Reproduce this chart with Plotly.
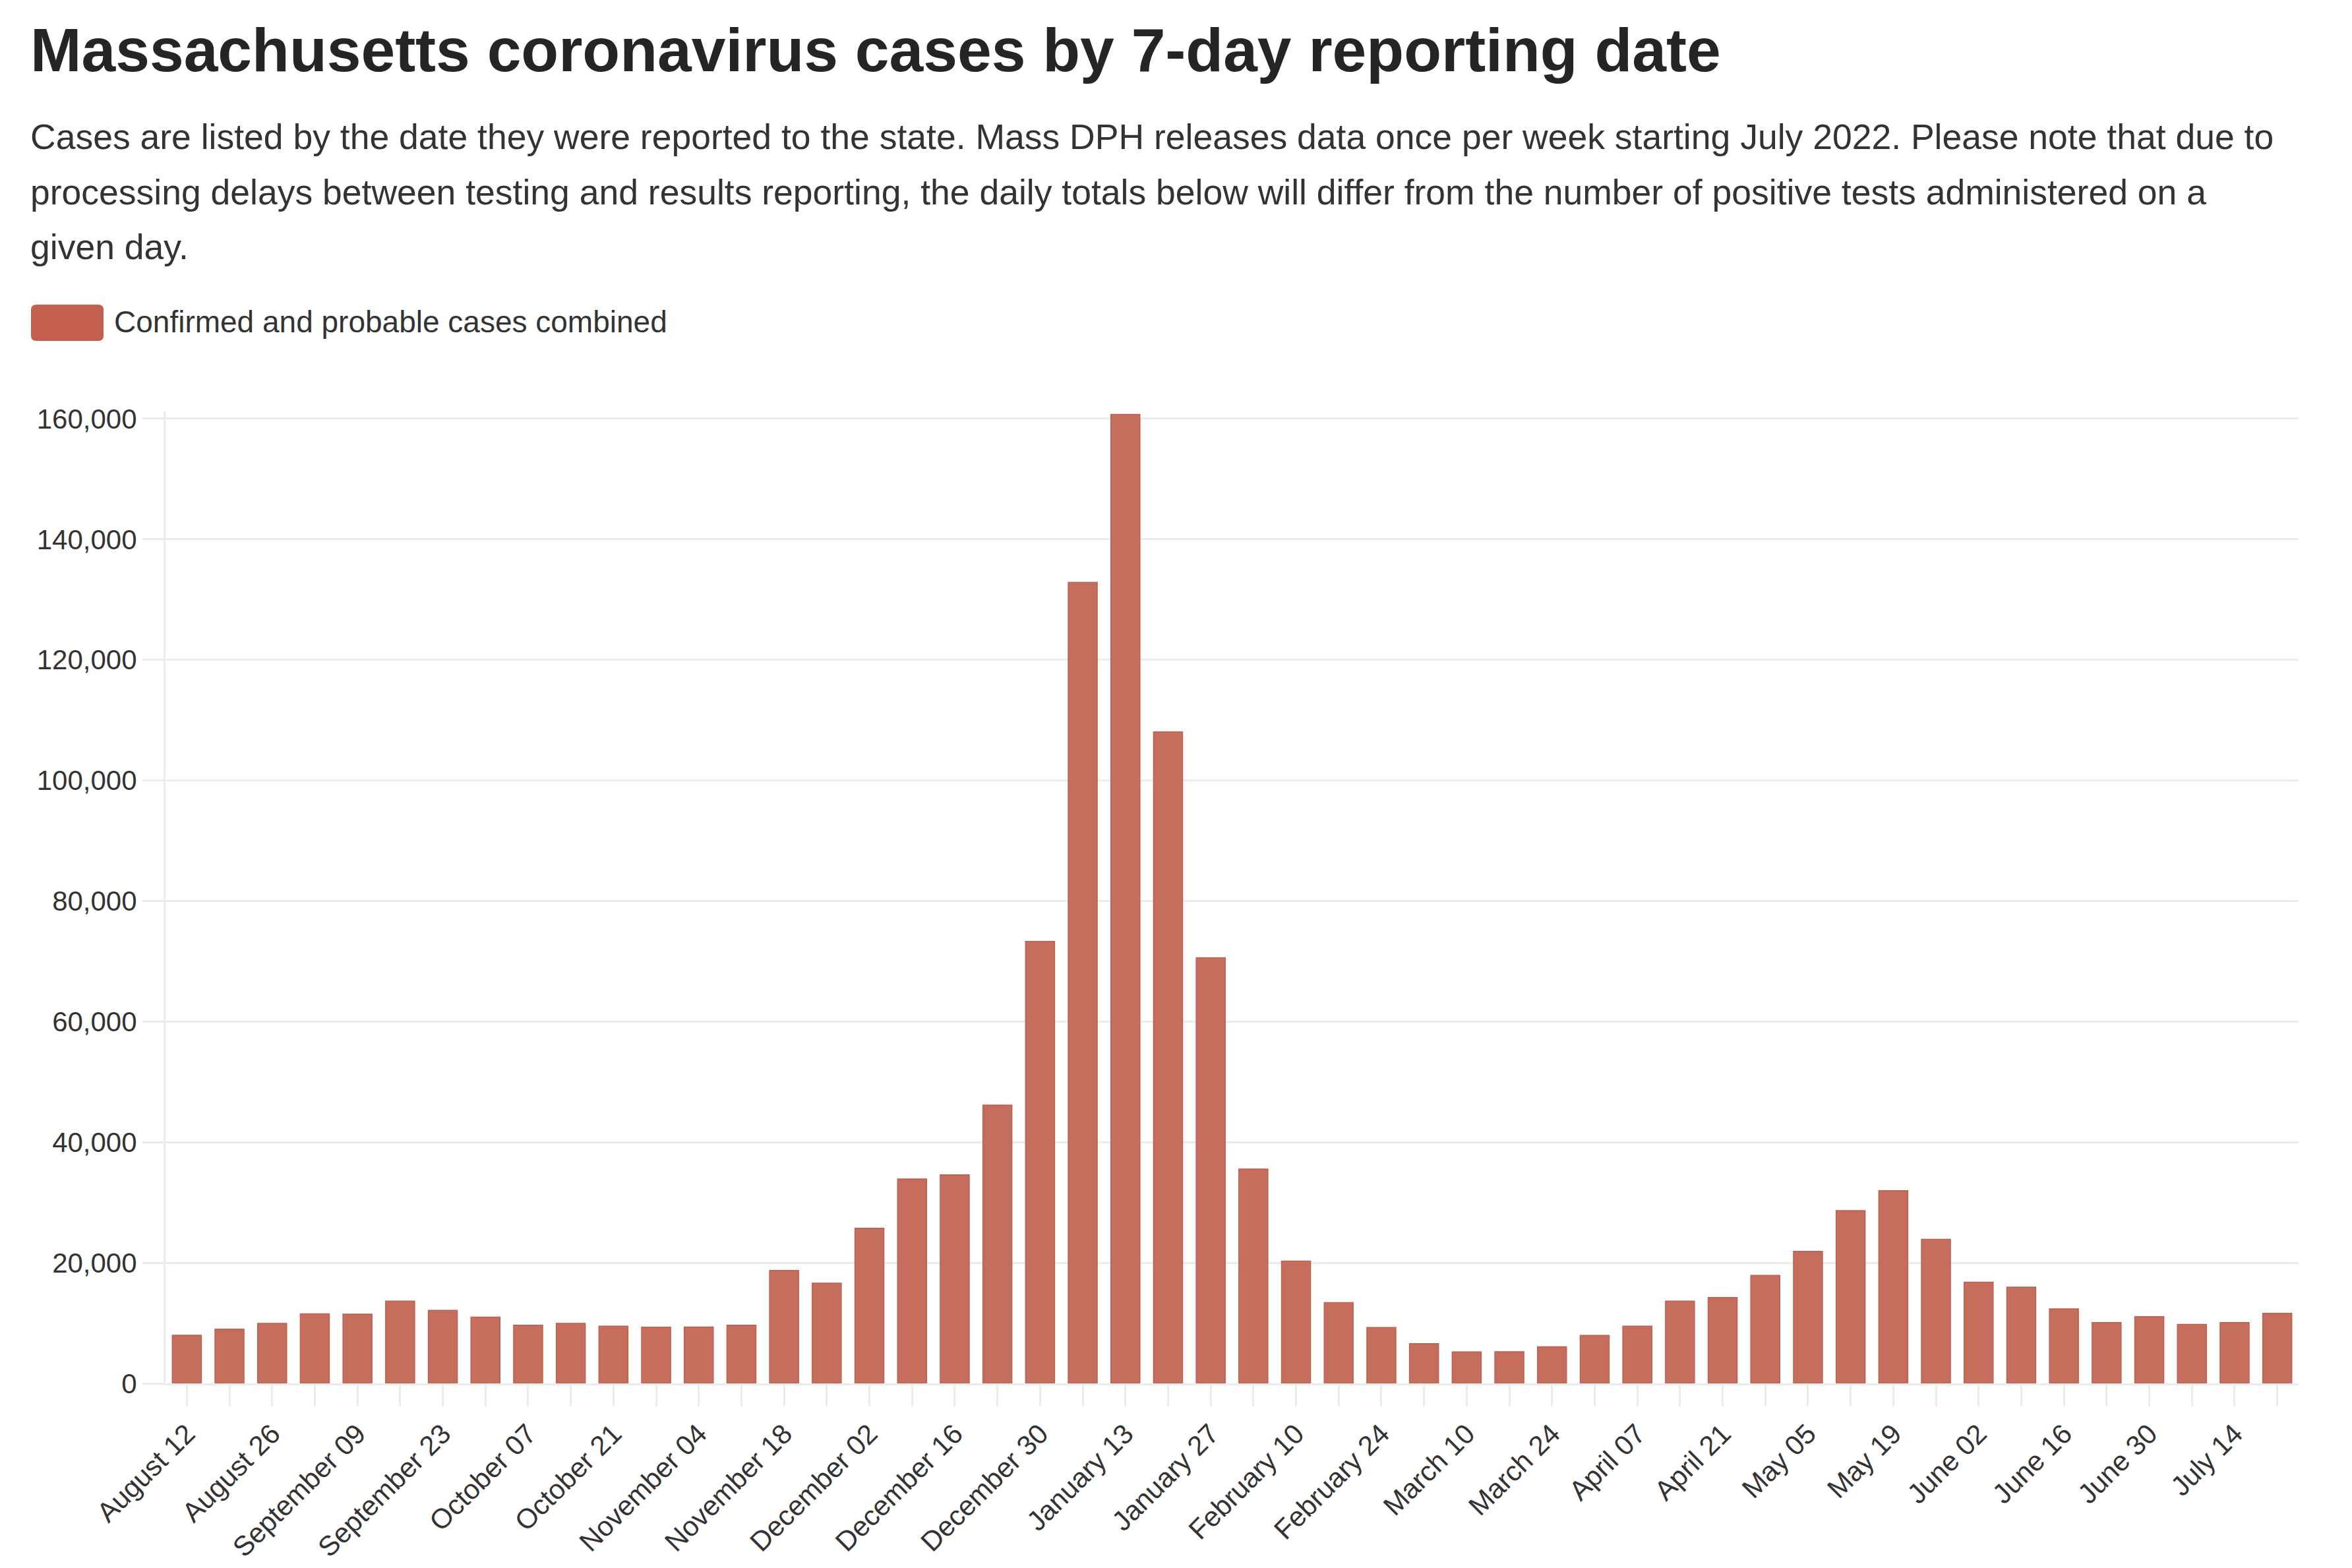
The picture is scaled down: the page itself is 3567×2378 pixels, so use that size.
import plotly.graph_objects as go

# ---- data ----
weeks = [
    "August 12", "August 19", "August 26", "September 02", "September 09",
    "September 16", "September 23", "September 30", "October 07", "October 14",
    "October 21", "October 28", "November 04", "November 11", "November 18",
    "November 25", "December 02", "December 09", "December 16", "December 23",
    "December 30", "January 06", "January 13", "January 20", "January 27",
    "February 03", "February 10", "February 17", "February 24", "March 03",
    "March 10", "March 17", "March 24", "March 31", "April 07",
    "April 14", "April 21", "April 28", "May 05", "May 12",
    "May 19", "May 26", "June 02", "June 09", "June 16",
    "June 23", "June 30", "July 07", "July 14", "July 21",
]
cases = [
    7970, 9000, 9950, 11550, 11470,
    13630, 12110, 11000, 9640, 9960,
    9480, 9320, 9360, 9650, 18720,
    16620, 25720, 33890, 34590, 46150,
    73310, 132860, 160700, 108050, 70580,
    35530, 20290, 13390, 9280, 6600,
    5210, 5250, 6060, 7960, 9500,
    13650, 14240, 17900, 21890, 28650,
    31960, 23900, 16800, 15960, 12370,
    10090, 11080, 9800, 10090, 11630,
]
y_ticks = [0, 20000, 40000, 60000, 80000, 100000, 120000, 140000, 160000]
series_name = "Confirmed and probable cases combined"
title_text = "Massachusetts coronavirus cases by 7-day reporting date"
subtitle_lines = [
    "Cases are listed by the date they were reported to the state. Mass DPH releases data once per week starting July 2022. Please note that due to",
    "processing delays between testing and results reporting, the daily totals below will differ from the number of positive tests administered on a",
    "given day.",
]

# ---- layout geometry (pixels) ----
W, H = 3567, 2378
L, R, T, B = 243, 3478, 616, 2090

def px2x(px):
    return (px - L) / (R - L)

def py2y(py):
    return (B - py) / (B - T)

BAR = "#c66e5e"
TEXT = "#333333"
GRID = "#ececec"
SANS = "Liberation Sans, Arial, sans-serif"

fig = go.Figure()
fig.add_trace(go.Bar(
    x=list(range(len(weeks))),
    y=cases,
    name=series_name,
    marker=dict(color=BAR, line=dict(color="#bf5f4f", width=1.5)),
    showlegend=False,
))

ticktext = [w if i % 2 == 0 else "" for i, w in enumerate(weeks)]

fig.update_layout(
    width=W, height=H,
    margin=dict(l=L, r=W - R, t=T, b=H - B),
    paper_bgcolor="white",
    plot_bgcolor="white",
    bargap=0.32,
    font=dict(family=SANS, color=TEXT),
    xaxis=dict(
        range=[-0.5, len(weeks) - 0.5],
        tickmode="array",
        tickvals=list(range(len(weeks))),
        ticktext=ticktext,
        tickangle=-45,
        ticks="outside", ticklen=32, tickwidth=3, tickcolor=GRID,
        tickfont=dict(family=SANS, size=42, color=TEXT),
        showgrid=False, zeroline=False,
        showline=True, linecolor=GRID, linewidth=3,
    ),
    yaxis=dict(
        range=[0, 161200],
        tickmode="array",
        tickvals=y_ticks,
        tickformat=",d",
        ticks="outside", ticklen=32, tickwidth=3, tickcolor=GRID,
        tickfont=dict(family=SANS, size=42, color=TEXT),
        showgrid=True, gridcolor=GRID, gridwidth=3,
        zeroline=False,
        showline=True, linecolor=GRID, linewidth=3,
    ),
)

annotations = [
    dict(text=title_text, x=px2x(36), y=py2y(68), xref="paper", yref="paper",
         xanchor="left", yanchor="middle", showarrow=False,
         font=dict(family=SANS, size=93, color="#252525", weight="bold")),
]
sub_centers = [196, 280, 362]
for line, cy in zip(subtitle_lines, sub_centers):
    annotations.append(dict(text=line, x=px2x(36), y=py2y(cy + 4), xref="paper", yref="paper",
                            xanchor="left", yanchor="middle", showarrow=False,
                            font=dict(family=SANS, size=53.5, color=TEXT)))
annotations.append(dict(text=series_name, x=px2x(163), y=py2y(480), xref="paper", yref="paper",
                        xanchor="left", yanchor="middle", showarrow=False,
                        font=dict(family=SANS, size=46, color=TEXT)))
fig.update_layout(annotations=annotations)

# legend swatch (rounded rectangle, pixel sized)
r = 8
w, h = 110, 55
path = (f"M 0,{r} Q 0,0 {r},0 L {w-r},0 Q {w},0 {w},{r} L {w},{h-r} "
        f"Q {w},{h} {w-r},{h} L {r},{h} Q 0,{h} 0,{h-r} Z")
fig.add_shape(type="path", xref="paper", yref="paper",
              xsizemode="pixel", ysizemode="pixel",
              xanchor=px2x(39), yanchor=py2y(509),
              path=path, fillcolor="#c35f4e", line=dict(width=0), layer="above")

fig.write_html("out.html")
